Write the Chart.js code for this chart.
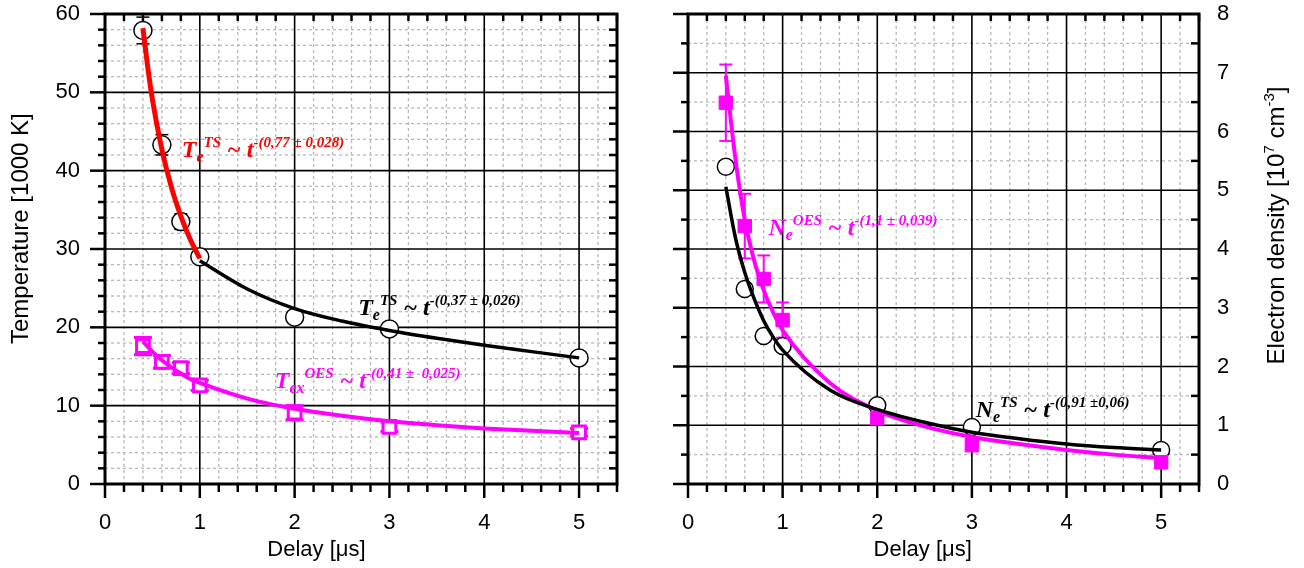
<!DOCTYPE html>
<html lang="en">
<head>
<meta charset="UTF-8">
<title>Temperature and electron density vs delay</title>
<script src="https://cdn.jsdelivr.net/npm/chart.js"></script>
<style>
  body { margin: 0; background: #fff; }
  .panel { position: absolute; top: 0; width: 652px; height: 568px; }
</style>
</head>
<body>
<div class="panel" style="left:0"><canvas id="tempChart" width="652" height="568"></canvas></div>
<div class="panel" style="left:652px"><canvas id="densChart" width="652" height="568"></canvas></div>

<script>
  // measured points (delay in microseconds)
  const delay = [0.4, 0.6, 0.8, 1, 2, 3, 5];
  const tempTS = [57.9, 43.3, 33.5, 29.0, 21.3, 19.8, 16.1];
  const tempTSErr = [1.7, 1.3, 1.0, 0.6, 0.4, 0.4, 0.4];
  const tempOES = [17.6, 15.6, 14.8, 12.6, 9.1, 7.3, 6.6];
  const tempOESErr = [1.1, 0.8, 0.7, 0.65, 0.9, 0.6, 0.5];
  const densTS = [5.4, 3.32, 2.52, 2.35, 1.34, 0.97, 0.58];
  const densOES = [6.49, 4.39, 3.49, 2.79, 1.12, 0.66, 0.37];
  const densOESErr = [0.65, 0.55, 0.4, 0.3, 0, 0, 0];

  // fit curves
  const fitRedX = [0.4, 0.45, 0.5, 0.6, 0.7, 0.8, 0.9, 1.0];
  const fitRedY = [58.2, 53.3, 49.1, 42.7, 37.9, 34.2, 31.2, 28.8];
  const fitTempTSX = [1, 1.5, 2, 2.5, 3, 3.5, 4, 4.5, 5];
  const fitTempTSY = [28.5, 24.9, 22.4, 20.8, 19.6, 18.6, 17.7, 16.9, 16.1];
  const fitTempOESX = [0.4, 0.5, 0.6, 0.7, 0.8, 0.9, 1, 1.5, 2, 2.5, 3, 3.5, 4, 4.5, 5];
  const fitTempOESY = [18.2, 16.9, 15.8, 14.9, 14.1, 13.4, 12.9, 10.9, 9.6, 8.7, 8.0, 7.5, 7.1, 6.8, 6.5];
  const fitDensX = [0.4, 0.5, 0.6, 0.7, 0.8, 0.9, 1, 1.5, 2, 2.5, 3, 3.5, 4, 4.5, 5];
  const fitDensOESY = [6.95, 5.55, 4.5, 3.8, 3.3, 2.92, 2.62, 1.72, 1.25, 0.98, 0.8, 0.68, 0.58, 0.5, 0.44];
  const fitDensTSY = [5.06, 4.2, 3.6, 3.15, 2.78, 2.5, 2.28, 1.6, 1.27, 1.05, 0.88, 0.77, 0.68, 0.62, 0.58];

  // tick labels
  const xTicks = [0, 1, 2, 3, 4, 5];
  const tempTicks = [0, 10, 20, 30, 40, 50, 60];
  const densTicks = [0, 1, 2, 3, 4, 5, 6, 7, 8];

  const RED = '#ff0000', MAG = '#ff00ff', BLK = '#000000';

  Chart.defaults.font.family = '"Liberation Sans", Arial, sans-serif';
  Chart.defaults.color = '#000';

  function pts(xs, ys) { return xs.map((v, i) => ({ x: v, y: ys[i] })); }
  function steps(from, to, step, skip) {
    const out = [];
    for (let v = from; v <= to + 1e-9; v += step) {
      const r = Math.round(v * 1000) / 1000;
      if (!skip || Math.abs(r / skip - Math.round(r / skip)) > 1e-6) out.push(r);
    }
    return out;
  }
  function seg(ctx, x1, y1, x2, y2) {
    ctx.beginPath(); ctx.moveTo(x1, y1); ctx.lineTo(x2, y2); ctx.stroke();
  }

  const fonts = {
    M: 'italic bold 24px "Liberation Serif", "Times New Roman", serif',
    S: 'italic bold 16px "Liberation Serif", "Times New Roman", serif',
    P: 'italic bold 15px "Liberation Serif", "Times New Roman", serif',
    A: '22px "Liberation Sans", Arial, sans-serif',
    T: '24px "Liberation Sans", Arial, sans-serif',
    a: '15px "Liberation Sans", Arial, sans-serif'
  };
  function rich(ctx, parts, x, y, angle, align) {
    ctx.save();
    ctx.translate(x, y);
    ctx.rotate(angle);
    ctx.textBaseline = 'alphabetic';
    let w = 0;
    parts.forEach(p => { ctx.font = fonts[p[1]]; w += ctx.measureText(p[0]).width; });
    let cx = align === 'center' ? -w / 2 : 0;
    parts.forEach(p => {
      ctx.font = fonts[p[1]];
      ctx.fillText(p[0], cx, p[2]);
      cx += ctx.measureText(p[0]).width;
    });
    ctx.restore();
  }
  function fitLabel(sym, sub, sup, expo) {
    return [[sym, 'M', 0], [sub, 'S', 5], [sup, 'P', -10], [' ~ ', 'M', 0], ['t', 'M', 0], [expo, 'P', -10]];
  }

  const panels = {
    tempChart: {
      xMinor: steps(0, 5.4, 0.2, 1), xMajor: [1, 2, 3, 4, 5],
      yMinor: steps(0, 60, 2, 10), yMajor: [10, 20, 30, 40, 50],
      notes: [
        { x: 0.81, y: 41.8, color: RED, parts: fitLabel('T', 'e', 'TS', '-(0,77 \u00b1 0,028)') },
        { x: 2.67, y: 21.6, color: BLK, parts: fitLabel('T', 'e', 'TS', '-(0,37 \u00b1 0,026)') },
        { x: 1.79, y: 12.3, color: MAG, parts: fitLabel('T', 'ex', 'OES', '-(0,41 \u00b1  0,025)') }
      ],
      xTitle: { x: 2.23, parts: [['Delay [\u03bcs]', 'A', 0]] },
      yTitle: { px: 20, y: 32.6, parts: [['Temperature [1000 K]', 'T', 0]] }
    },
    densChart: {
      xMinor: steps(0, 5.4, 0.2, 1), xMajor: [1, 2, 3, 4, 5],
      yMinor: steps(0, 8, 0.5, 1), yMajor: [1, 2, 3, 4, 5, 6, 7],
      notes: [
        { x: 0.85, y: 4.24, color: MAG, parts: fitLabel('N', 'e', 'OES', '-(1,1 \u00b1 0,039)') },
        { x: 3.04, y: 1.14, color: BLK, parts: fitLabel('N', 'e', 'TS', '-(0,91 \u00b10,06)') }
      ],
      xTitle: { x: 2.48, parts: [['Delay [\u03bcs]', 'A', 0]] },
      yTitle: { px: 624, y: 4.4, parts: [['Electron density [10', 'T', 0], ['7', 'a', -10], [' cm', 'T', 0], ['-3', 'a', -10], [']', 'T', 0]] }
    }
  };

  const gridFrame = {
    id: 'gridFrame',
    beforeDatasetsDraw(chart) {
      const info = panels[chart.canvas.id];
      const { ctx, chartArea: a, scales: { x, y } } = chart;
      ctx.save();
      ctx.strokeStyle = '#b8b8b8'; ctx.lineWidth = 1.3; ctx.setLineDash([3, 3]);
      info.xMinor.forEach(v => { const p = x.getPixelForValue(v); seg(ctx, p, a.top, p, a.bottom); });
      info.yMinor.forEach(v => { const p = y.getPixelForValue(v); seg(ctx, a.left, p, a.right, p); });
      ctx.setLineDash([]); ctx.strokeStyle = BLK; ctx.lineWidth = 1.6;
      info.xMajor.forEach(v => { const p = x.getPixelForValue(v); seg(ctx, p, a.top, p, a.bottom); });
      info.yMajor.forEach(v => { const p = y.getPixelForValue(v); seg(ctx, a.left, p, a.right, p); });
      // error bars
      chart.data.datasets.forEach(ds => {
        if (!ds.err) return;
        ctx.strokeStyle = ds.errColor; ctx.lineWidth = ds.errWidth;
        ds.data.forEach((pt, j) => {
          const e = ds.err[j];
          if (!e) return;
          const px = x.getPixelForValue(pt.x);
          const top = y.getPixelForValue(pt.y + e), bot = y.getPixelForValue(pt.y - e);
          const h = ds.errCap / 2;
          seg(ctx, px, top, px, bot);
          seg(ctx, px - h, top, px + h, top);
          seg(ctx, px - h, bot, px + h, bot);
        });
      });
      ctx.restore();
    },
    afterDatasetsDraw(chart) {
      const info = panels[chart.canvas.id];
      const { ctx, chartArea: a, scales: { x, y } } = chart;
      ctx.save();
      ctx.strokeStyle = BLK; ctx.lineWidth = 2.5;
      // x ticks: outward below, inward on top
      info.xMinor.forEach(v => {
        const p = x.getPixelForValue(v);
        seg(ctx, p, a.bottom, p, a.bottom + 8);
        seg(ctx, p, a.top, p, a.top + 7);
      });
      xTicks.forEach(v => {
        const p = x.getPixelForValue(v);
        seg(ctx, p, a.bottom, p, a.bottom + 14);
      });
      // y ticks: outward on the left, inward on the right
      info.yMinor.forEach(v => {
        const p = y.getPixelForValue(v);
        seg(ctx, a.left, p, a.left - 7, p);
        seg(ctx, a.right, p, a.right - 8, p);
      });
      info.yMajor.concat([y.min, y.max]).forEach(v => {
        const p = y.getPixelForValue(v);
        seg(ctx, a.left, p, a.left - 15, p);
      });
      // frame
      ctx.lineWidth = 3;
      ctx.strokeRect(a.left, a.top, a.right - a.left, a.bottom - a.top);
      // fit annotations
      info.notes.forEach(n => {
        ctx.fillStyle = n.color;
        rich(ctx, n.parts, x.getPixelForValue(n.x), y.getPixelForValue(n.y), 0, 'left');
      });
      // axis titles
      ctx.fillStyle = BLK;
      rich(ctx, info.xTitle.parts, x.getPixelForValue(info.xTitle.x), 556, 0, 'center');
      rich(ctx, info.yTitle.parts, info.yTitle.px + 8, y.getPixelForValue(info.yTitle.y), -Math.PI / 2, 'center');
      ctx.restore();
    }
  };

  function curve(xs, ys, color, width) {
    return {
      data: pts(xs, ys), showLine: true, pointRadius: 0, borderColor: color, borderWidth: width,
      cubicInterpolationMode: 'monotone', fill: false
    };
  }
  function markers(xs, ys, style, radius, color, fillColor, lw, err, errWidth, errCap) {
    return {
      data: pts(xs, ys), showLine: false, pointStyle: style, pointRadius: radius,
      pointBorderColor: color, pointBackgroundColor: fillColor, pointBorderWidth: lw,
      borderColor: color, backgroundColor: fillColor,
      err: err, errColor: color, errWidth: errWidth, errCap: errCap
    };
  }

  function scalesFor(yMax, yTickValues, side) {
    return {
      x: {
        type: 'linear', min: 0, max: 5.4,
        afterBuildTicks: s => { s.ticks = xTicks.map(v => ({ value: v })); },
        afterFit: s => { s.height = 84; s.paddingLeft = 0; s.paddingRight = 0; },
        grid: { display: false, drawTicks: false }, border: { display: false },
        ticks: { padding: 26, autoSkip: false, maxRotation: 0, font: { size: 22 }, color: '#000' }
      },
      y: {
        type: 'linear', min: 0, max: yMax, position: side,
        afterBuildTicks: s => { s.ticks = yTickValues.map(v => ({ value: v })); },
        afterFit: s => { s.width = 105; s.paddingTop = 0; s.paddingBottom = 0; },
        grid: { display: false, drawTicks: false }, border: { display: false },
        ticks: { padding: side === 'left' ? 25 : 18, autoSkip: false, font: { size: 22 }, color: '#000' }
      }
    };
  }

  function baseOptions(yMax, yTickValues, side, padding) {
    return {
      responsive: false, maintainAspectRatio: false, animation: false, events: [],
      layout: { padding: padding },
      plugins: { legend: { display: false }, tooltip: { enabled: false } },
      scales: scalesFor(yMax, yTickValues, side)
    };
  }

  new Chart(document.getElementById('tempChart'), {
    type: 'scatter',
    data: {
      datasets: [
        curve(fitRedX, fitRedY, RED, 5),
        curve(fitTempTSX, fitTempTSY, BLK, 3.5),
        curve(fitTempOESX, fitTempOESY, MAG, 4),
        markers(delay, tempOES, 'rect', 9, MAG, '#fff', 3, tempOESErr, 3, 18),
        markers(delay, tempTS, 'circle', 9, BLK, '#fff', 1.5, tempTSErr, 1.5, 13)
      ]
    },
    options: baseOptions(60, tempTicks, 'left', { top: 14, right: 35, left: 0, bottom: 0 }),
    plugins: [gridFrame]
  });

  new Chart(document.getElementById('densChart'), {
    type: 'scatter',
    data: {
      datasets: [
        curve(fitDensX, fitDensTSY, BLK, 3.5),
        curve(fitDensX, fitDensOESY, MAG, 4),
        markers(delay, densOES, 'rect', 9.5, MAG, MAG, 1, densOESErr, 2, 13),
        markers(delay, densTS, 'circle', 8.5, BLK, '#fff', 1.5, null, 0, 0)
      ]
    },
    options: baseOptions(8, densTicks, 'right', { top: 14, right: 0, left: 36, bottom: 0 }),
    plugins: [gridFrame]
  });
</script>
</body>
</html>
